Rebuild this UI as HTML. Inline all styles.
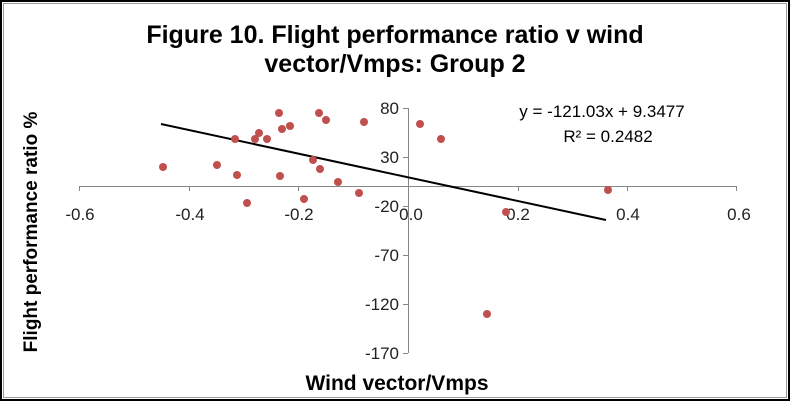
<!DOCTYPE html>
<html><head><style>
html,body{margin:0;padding:0;background:#fff;}
</style></head><body>
<svg width="790" height="401" viewBox="0 0 790 401" xmlns="http://www.w3.org/2000/svg" font-family="Liberation Sans, Arial, sans-serif">
<rect x="1" y="1" width="788" height="399" fill="#fff" stroke="#000" stroke-width="2"/>
<rect x="3.5" y="3.5" width="783" height="394" fill="none" stroke="#999" stroke-width="1"/>
<text x="395" y="43" font-size="25" font-weight="bold" text-anchor="middle">Figure 10. Flight performance ratio v wind</text>
<text x="395" y="72" font-size="25" font-weight="bold" text-anchor="middle">vector/Vmps: Group 2</text>
<text transform="translate(37,232) rotate(-90)" font-size="19" font-weight="bold" text-anchor="middle">Flight performance ratio %</text>
<text x="397" y="390" font-size="21" font-weight="bold" text-anchor="middle">Wind vector/Vmps</text>
<g stroke="#868686" stroke-width="1">
<line x1="79" y1="186.5" x2="737" y2="186.5"/>
<line x1="408.5" y1="108" x2="408.5" y2="353"/>
<line x1="79.5" y1="186" x2="79.5" y2="191"/>
<line x1="189.5" y1="186" x2="189.5" y2="191"/>
<line x1="298.5" y1="186" x2="298.5" y2="191"/>
<line x1="408.5" y1="186" x2="408.5" y2="191"/>
<line x1="518.5" y1="186" x2="518.5" y2="191"/>
<line x1="627.5" y1="186" x2="627.5" y2="191"/>
<line x1="736.5" y1="186" x2="736.5" y2="191"/>
<line x1="403" y1="108.5" x2="408" y2="108.5"/>
<line x1="403" y1="157.5" x2="408" y2="157.5"/>
<line x1="403" y1="206.5" x2="408" y2="206.5"/>
<line x1="403" y1="255.5" x2="408" y2="255.5"/>
<line x1="403" y1="304.5" x2="408" y2="304.5"/>
<line x1="403" y1="353.5" x2="408" y2="353.5"/>
</g>
<g font-size="17" fill="#222" text-anchor="middle">
<text x="80" y="220">-0.6</text>
<text x="190" y="220">-0.4</text>
<text x="299" y="220">-0.2</text>
<text x="411" y="220">0.0</text>
<text x="518" y="220">0.2</text>
<text x="628" y="220">0.4</text>
<text x="739" y="220">0.6</text>
</g>
<g font-size="17" fill="#222" text-anchor="end">
<text x="399" y="114">80</text>
<text x="399" y="163">30</text>
<text x="399" y="212">-20</text>
<text x="399" y="261">-70</text>
<text x="399" y="310">-120</text>
<text x="399" y="359">-170</text>
</g>
<line x1="161" y1="124" x2="606" y2="220" stroke="#000" stroke-width="2"/>
<g fill="#c0504d">
<circle cx="163" cy="167" r="4"/><circle cx="217" cy="165" r="4"/><circle cx="237" cy="175" r="4"/>
<circle cx="247" cy="203" r="4"/><circle cx="235" cy="139" r="4"/><circle cx="255" cy="139" r="4"/>
<circle cx="259" cy="133" r="4"/><circle cx="267" cy="139" r="4"/><circle cx="279" cy="113" r="4"/>
<circle cx="282" cy="129" r="4"/><circle cx="290" cy="126" r="4"/><circle cx="280" cy="176" r="4"/>
<circle cx="304" cy="199" r="4"/><circle cx="313" cy="160" r="4"/><circle cx="320" cy="169" r="4"/>
<circle cx="319" cy="113" r="4"/><circle cx="326" cy="120" r="4"/><circle cx="338" cy="182" r="4"/>
<circle cx="359" cy="193" r="4"/><circle cx="364" cy="122" r="4"/><circle cx="420" cy="124" r="4"/>
<circle cx="441" cy="139" r="4"/><circle cx="487" cy="314" r="4"/><circle cx="506" cy="212" r="4"/>
<circle cx="608" cy="190" r="4"/>
</g>
<text x="602" y="117" font-size="17" text-anchor="middle">y = -121.03x + 9.3477</text>
<text x="608" y="142" font-size="17" text-anchor="middle">R² = 0.2482</text>
</svg>
</body></html>
